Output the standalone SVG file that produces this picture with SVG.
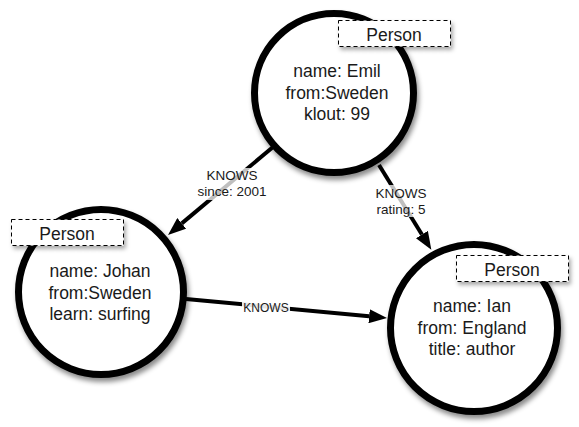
<svg xmlns="http://www.w3.org/2000/svg" width="579" height="427" viewBox="0 0 579 427">
<style>
.node{fill:#fff;stroke:#000;stroke-width:7;filter:url(#sh)}
.lbl{fill:#fff;stroke:#000;stroke-width:1;stroke-dasharray:4 3;filter:url(#sh2)}
.t{font-family:"Liberation Sans",Arial,sans-serif;font-size:17.5px;fill:#1a1a1a;text-anchor:middle}
.e{fill:none;stroke:#000;stroke-width:4}
.et{font-family:"Liberation Sans",Arial,sans-serif;font-size:13.5px;fill:#1a1a1a;text-anchor:middle}
.bg{fill:#fff;fill-opacity:0.75}
</style>
<defs>
<filter id="sh" x="-20%" y="-20%" width="150%" height="150%">
<feDropShadow dx="2" dy="4" stdDeviation="2.5" flood-color="#000" flood-opacity="0.45"/>
</filter>
<filter id="sh2" x="-20%" y="-40%" width="150%" height="200%">
<feDropShadow dx="2" dy="3" stdDeviation="2" flood-color="#000" flood-opacity="0.35"/>
</filter>
<marker id="arr" viewBox="0 0 18 14" refX="0" refY="7" markerWidth="18" markerHeight="14" markerUnits="userSpaceOnUse" orient="auto">
<path d="M0,0 L18,7 L0,14 z" fill="#000"/>
</marker>
</defs>

<g id="node-emil">
<circle class="node" cx="334" cy="93" r="79.5"/>
<rect class="lbl" x="338.5" y="20.5" width="112" height="26"/>
<text class="t" x="394" y="41">Person</text>
<text class="t" x="337" y="77">name: Emil</text>
<text class="t" x="337" y="98.5">from:Sweden</text>
<text class="t" x="337" y="120">klout: 99</text>
</g>

<g id="node-johan">
<circle class="node" cx="101" cy="292" r="82.5"/>
<rect class="lbl" x="11.5" y="219.5" width="112" height="26"/>
<text class="t" x="67" y="240">Person</text>
<text class="t" x="100" y="277">name: Johan</text>
<text class="t" x="100" y="298.5">from:Sweden</text>
<text class="t" x="100" y="320">learn: surfing</text>
</g>

<g id="node-ian">
<circle class="node" cx="474" cy="328" r="83.5"/>
<rect class="lbl" x="456.5" y="255.5" width="112" height="26"/>
<text class="t" x="512" y="275.5">Person</text>
<text class="t" x="472" y="312">name: Ian</text>
<text class="t" x="472" y="333.5">from: England</text>
<text class="t" x="472" y="355">title: author</text>
</g>

<g id="connectors">
<g id="edge-emil-johan">
<path class="e" d="M273,147 L181.8,223.4" marker-end="url(#arr)"/>
<rect class="bg" x="196" y="168" width="73" height="32"/>
<text class="et" x="232" y="180">KNOWS</text>
<text class="et" x="232" y="196">since: 2001</text>
</g>
<g id="edge-emil-ian">
<path class="e" d="M379,165 L421.9,234.5" marker-end="url(#arr)"/>
<rect class="bg" x="373" y="185" width="57" height="32"/>
<text class="et" x="401" y="198">KNOWS</text>
<text class="et" x="401" y="214">rating: 5</text>
</g>
<g id="edge-johan-ian">
<path class="e" d="M186,299 L369.1,316.3" marker-end="url(#arr)"/>
<rect class="bg" x="242" y="302" width="48" height="13" style="fill-opacity:0.9"/>
<text class="et" x="266" y="312" style="font-size:12px">KNOWS</text>
</g>
</g>
</svg>
